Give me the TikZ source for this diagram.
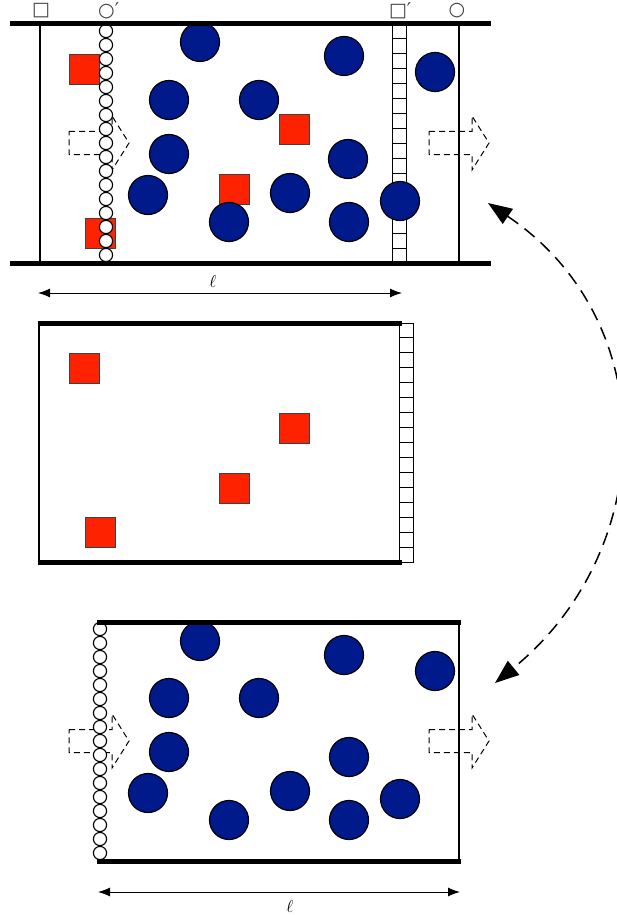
\documentclass[tikz,border=0pt]{standalone}
\usepackage{fontspec}
\newfontfamily\symfont{DejaVu Sans}
\usetikzlibrary{arrows.meta}
\definecolor{partred}{RGB}{255,34,0}
\definecolor{partblue}{RGB}{0,26,140}
\tikzset{
  wall/.style={line width=5pt},
  sidewall/.style={line width=2.7pt},
  redsq/.style={rectangle, fill=partred, draw=black!75, line width=0.7pt, minimum size=30pt, inner sep=0pt},
  bluec/.style={circle, fill=partblue, draw=black, line width=1.2pt, minimum size=39pt, inner sep=0pt},
  memc/.style={circle, draw=black, fill=white, line width=1.1pt, minimum size=13.2pt, inner sep=0pt},
  mems/.style={rectangle, draw=black, fill=white, line width=1pt, minimum width=14pt, minimum height=14.94pt, inner sep=0pt},
  flow/.style={dash pattern=on 6pt off 4pt, line width=1pt},
  lenarrow/.style={{Latex[length=12pt,width=9pt]}-{Latex[length=12pt,width=9pt]}, line width=1pt},
  swap/.style={dash pattern=on 13pt off 8pt, line width=1.5pt, {Triangle[length=24pt,width=18pt]}-{Triangle[length=24pt,width=18pt]}},
  sym/.style={font=\symfont\fontsize{19}{19}\selectfont, text=black!75, inner sep=0pt},
  lenlabel/.style={font=\fontsize{16}{16}\selectfont, inner sep=0pt},
  flowarrow/.pic={\draw[flow] (0,-11.5) -- (43,-11.5) -- (43,-27) -- (60,0) -- (43,27) -- (43,11.5) -- (0,11.5) -- cycle;}
}
\begin{document}
\begin{tikzpicture}[x=1pt,y=-1pt]
\useasboundingbox (0,0) rectangle (616,915);

% ---------- top channel: both membranes ----------
\node[sym] (labSq) at (41,11) {□};
\node[sym] (labCiP) at (106.5,11) {○\rlap{′}};
\node[sym] (labSqP) at (398,11) {□\rlap{′}};
\node[sym] (labCi) at (457,11) {○};

\pic at (69,143) {flowarrow};
\pic at (429,143) {flowarrow};

\foreach \p/\x/\y in {a/84.5/69, b/294/129, c/234/189, d/100/233}
  \node[redsq] (r1\p) at (\x,\y) {};

\foreach \k in {0,...,16}
  \node[memc] (cm1\k) at (106,{31+14*\k}) {};
\foreach \k in {0,...,15}
  \node[mems] (sm1\k) at (399,{31.47+14.94*\k}) {};

\foreach \p/\x/\y in {a/200/42, b/344/56, c/435/72, d/169/100, e/259/100, f/169/154,
                      g/348/159, h/148/195, i/290/193, j/229/222, k/349/222, l/400/201}
  \node[bluec] (b1\p) at (\x,\y) {};

\draw[sidewall] (40,24) -- (40,263);
\draw[sidewall] (459,24) -- (459,263);
\draw[wall] (10,24) -- (491,24);
\draw[wall] (10,263) -- (491,263);

\coordinate (l1a) at (38,293);
\coordinate (l1b) at (402,293);
\draw[lenarrow] (l1a) -- (l1b);
\node[lenlabel] (ell1) at (213,281) {$\ell$};

% ---------- middle channel: red particles only ----------
\foreach \k in {0,...,15}
  \node[mems] (sm2\k) at (406,{330.47+14.94*\k}) {};
\foreach \p/\x/\y in {a/84.5/368, b/294/428, c/234/488, d/100/532}
  \node[redsq] (r2\p) at (\x,\y) {};
\draw[sidewall] (39,323) -- (39,562);
\draw[wall] (38,323) -- (402,323);
\draw[wall] (38,562) -- (402,562);

% ---------- bottom channel: blue particles only ----------
\pic at (69,741) {flowarrow};
\pic at (429,741) {flowarrow};
\foreach \k in {0,...,16}
  \node[memc] (cm3\k) at (100,{629+14*\k}) {};
\foreach \p/\x/\y in {a/200/641, b/344/655, c/435/671, d/169/698, e/259/698, f/169/752,
                      g/349/757, h/148/793, i/290/791, j/229/820, k/349/820, l/400/799}
  \node[bluec] (b3\p) at (\x,\y) {};
\draw[sidewall] (459,622) -- (459,861);
\draw[wall] (97,622) -- (461,622);
\draw[wall] (97,861) -- (461,861);

\coordinate (l3a) at (98,892);
\coordinate (l3b) at (460,892);
\draw[lenarrow] (l3a) -- (l3b);
\node[lenlabel] (ell3) at (290,906) {$\ell$};

% ---------- exchange between the top and bottom channels ----------
\coordinate (swTop) at (488,203);
\coordinate (swBot) at (495,683);
\draw[swap] (swTop) .. controls (664,322) and (658,550) .. (swBot);
\end{tikzpicture}
\end{document}
